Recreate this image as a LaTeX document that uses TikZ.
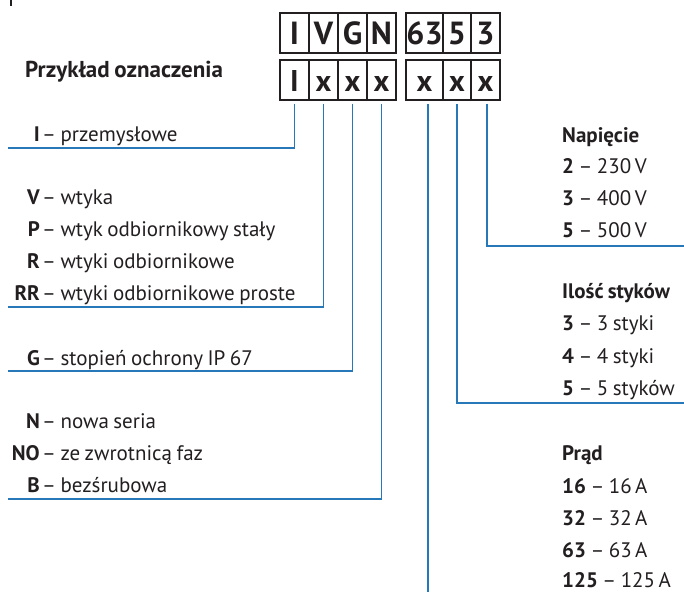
\documentclass[tikz,border=0pt]{standalone}
\usepackage{fontspec}
\setmainfont[WordSpace=0.8]{PT Sans}
\definecolor{conncol}{RGB}{38,120,184}
\definecolor{txt}{RGB}{35,31,32}
\begin{document}
\begin{tikzpicture}[x=1pt,y=-1pt,
  cell/.style={draw=txt, line width=1.2pt, minimum height=40pt, inner sep=0pt, text=txt},
  topcell/.style={cell, font=\fontsize{32}{32}\selectfont\bfseries, text height=23pt, text depth=1pt},
  botcell/.style={cell, font=\fontsize{30}{30}\selectfont\bfseries, text height=22pt, text depth=0pt},
  keyt/.style={anchor=base east, inner sep=0pt, text=txt, font=\fontsize{21}{21}\selectfont\bfseries},
  desc/.style={anchor=base west, inner sep=0pt, text=txt, font=\fontsize{21}{21}\selectfont},
  conn/.style={draw=conncol, line width=1.5pt}
]
\useasboundingbox (0,0) rectangle (684,592);
\draw[txt, line width=1.5pt] (11,0) -- (11,6);

% top row
\node[topcell, minimum width=29pt] (t1) at (294.5,33) {I};
\node[topcell, minimum width=29pt] (t2) at (323.5,33) {V};
\node[topcell, minimum width=29pt] (t3) at (352.5,33) {G};
\node[topcell, minimum width=29pt] (t4) at (381.5,33) {N};
\node[topcell, minimum width=37pt] (t5) at (424.5,33) {63};
\node[topcell, minimum width=28pt] (t6) at (457,33) {5};
\node[topcell, minimum width=29pt] (t7) at (485.5,33) {3};
% bottom row
\node[botcell, minimum width=29pt] (b1) at (294.5,80) {I};
\node[botcell, minimum width=29pt] (b2) at (323.5,80) {x};
\node[botcell, minimum width=29pt] (b3) at (352.5,80) {x};
\node[botcell, minimum width=29pt] (b4) at (381.5,80) {x};
\node[botcell, minimum width=37pt] (b5) at (424.5,80) {x};
\node[botcell, minimum width=28pt] (b6) at (457,80) {x};
\node[botcell, minimum width=29pt] (b7) at (485.5,80) {x};

\node[desc, font=\fontsize{23}{23}\selectfont\bfseries] (title) at (25,77) {Przykład oznaczenia};

% left lists
\node[keyt] (kI) at (40,141) {I};
\node[desc] (dI) at (42,141) {– przemysłowe};

\node[keyt] (kV) at (40,204) {V};
\node[desc] (dV) at (42,204) {– wtyka};
\node[keyt] (kP) at (40,236) {P};
\node[desc] (dP) at (42,236) {– wtyk odbiornikowy stały};
\node[keyt] (kR) at (40,268) {R};
\node[desc] (dR) at (42,268) {– wtyki odbiornikowe};
\node[keyt] (kRR) at (40,300) {RR};
\node[desc] (dRR) at (42,300) {– wtyki odbiornikowe proste};

\node[keyt] (kG) at (40,365) {G};
\node[desc] (dG) at (42,365) {– stopień ochrony IP 67};

\node[keyt] (kN) at (40,428) {N};
\node[desc] (dN) at (42,428) {– nowa seria};
\node[keyt] (kNO) at (40,460) {NO};
\node[desc] (dNO) at (42,460) {– ze zwrotnicą faz};
\node[keyt] (kB) at (40,492) {B};
\node[desc] (dB) at (42,492) {– bezśrubowa};

% right lists
\node[desc] (u0) at (562,142) {\bfseries Napięcie};
\node[desc] (u1) at (562,173) {\textbf{2} – 230\,V};
\node[desc] (u2) at (562,205) {\textbf{3} – 400\,V};
\node[desc] (u3) at (562,237) {\textbf{5} – 500\,V};

\node[desc] (s0) at (562,298) {\bfseries Ilość styków};
\node[desc] (s1) at (562,330) {\textbf{3} – 3 styki};
\node[desc] (s2) at (562,363) {\textbf{4} – 4 styki};
\node[desc] (s3) at (562,395) {\textbf{5} – 5 styków};

\node[desc] (p0) at (562,460) {\bfseries Prąd};
\node[desc] (p1) at (562,493) {\textbf{16} – 16\,A};
\node[desc] (p2) at (562,525) {\textbf{32} – 32\,A};
\node[desc] (p3) at (562,557) {\textbf{63} – 63\,A};
\node[desc] (p4) at (562,587) {\textbf{125} – 125\,A};

% connector ends
\coordinate (eI) at (8,148);
\coordinate (eV) at (8,307);
\coordinate (eG) at (8,371);
\coordinate (eN) at (8,499);
\coordinate (eP) at (428,592);
\coordinate (eS) at (684,403);
\coordinate (eU) at (684,246);

\draw[conn] ([yshift=-3pt]b1.south) |- (eI);
\draw[conn] ([yshift=-3pt]b2.south) |- (eV);
\draw[conn] ([yshift=-3pt]b3.south) |- (eG);
\draw[conn] ([yshift=-3pt]b4.south) |- (eN);
\draw[conn] ([xshift=3.5pt,yshift=-3pt]b5.south) -- (eP);
\draw[conn] ([yshift=-3pt]b6.south) |- (eS);
\draw[conn] ([xshift=1.5pt,yshift=-3pt]b7.south) |- (eU);
\end{tikzpicture}
\end{document}
